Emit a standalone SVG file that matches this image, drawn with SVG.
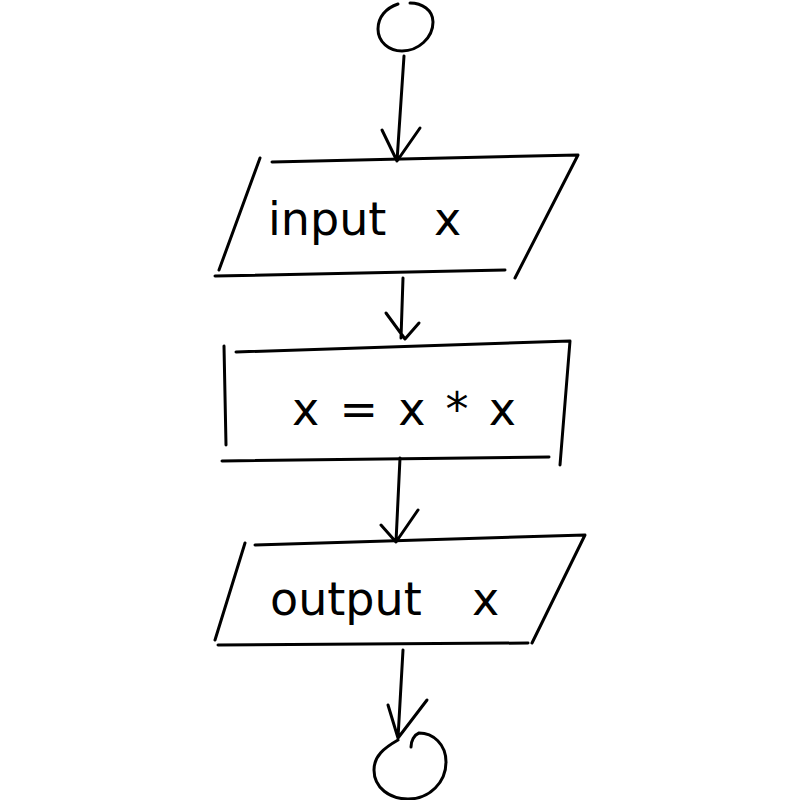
<svg xmlns="http://www.w3.org/2000/svg" width="800" height="800" viewBox="0 0 800 800">
<style>
.s{fill:none;stroke:#000;stroke-width:3;stroke-linecap:round;stroke-linejoin:round}
.t{font-family:"DejaVu Sans","Liberation Sans",sans-serif;font-size:46px;fill:#000}
</style>
<rect width="800" height="800" fill="#fff"/>
<g id="start">
<path class="s" d="M398,4 C386,8 378,17 378,29 C378,42 389,51 402,51 C418,51 433,38 433,22 C433,10 422,3 410,3"/>
</g>
<g id="input">
<path class="s" d="M272,162 L578,155 L515,278 M260,158 L219,270 M215,276 L505,270"/>
<text class="t" x="268" y="235">input</text>
<text class="t" x="434" y="235">x</text>
</g>
<g id="process">
<path class="s" d="M236,352 L570,341 L560,465 M224,346 L226,445 M222,461 L549,457"/>
<text class="t" x="292" y="425" textLength="224" lengthAdjust="spacing">x = x * x</text>
</g>
<g id="output">
<path class="s" d="M255,545 L585,535 L532,643 M245,543 L215,640 M218,645 L528,643"/>
<text class="t" x="270" y="615">output</text>
<text class="t" x="472" y="615">x</text>
</g>
<g id="end">
<path class="s" d="M398,740 C384,748 374,756 374,770 C374,788 390,799 408,799 C430,799 446,782 446,762 C446,744 433,733 419,733 C414,735 411,741 411,747"/>
</g>
<g id="connectors">
<path class="s" d="M404,56 L397,161 M382,130 L397,161 L420,128"/>
<path class="s" d="M403,278 L401,338 M386,313 L405,339 L419,323"/>
<path class="s" d="M400,458 L396,542 M381,525 L396,542 L418,510"/>
<path class="s" d="M403,650 L398,738 M388,705 L398,738 L427,700"/>
</g>
</svg>
